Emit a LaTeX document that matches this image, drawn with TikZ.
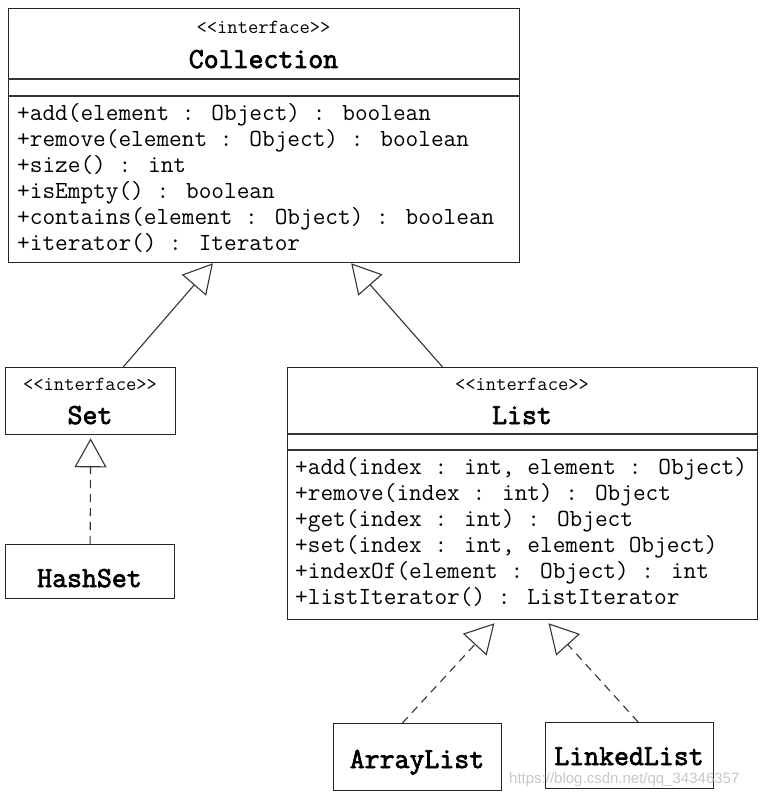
\documentclass[tikz,border=0pt]{standalone}
\usepackage{fontspec}
\newfontfamily\markfont{Liberation Sans}
\newfontfamily\namefont{Latin Modern Mono}[FakeBold=2.5]
\usetikzlibrary{arrows.meta,calc}
\tikzset{
  box/.style={draw=black!85, line width=1.3pt, anchor=north west, inner sep=0pt},
  sep/.style={draw=black!80, line width=1.2pt},
  stereo/.style={font=\ttfamily\fontsize{20}{22}\selectfont, anchor=base, inner sep=0pt},
  cname/.style={font=\namefont\fontsize{29}{32}\selectfont, anchor=base, inner sep=0pt},
  op/.style={font=\ttfamily\fontsize{24.6}{27}\selectfont, anchor=base west, inner sep=0pt},
  realize/.style={draw=black!80, line width=1.1pt, -{Triangle[open, length=29pt, width=32pt]}},
  impl/.style={realize, dash pattern=on 8pt off 6pt}
}
\begin{document}
\begin{tikzpicture}[x=1pt,y=-1pt]
  \useasboundingbox (0,0) rectangle (760,794);
  % Collection
  \node[box, minimum width=511pt, minimum height=254pt] (coll) at (8,8) {};
  \node[stereo] (collst) at (263.5,34) {<{}<interface>{}>};
  \node[cname] (collnm) at (263.5,68) {Collection};
  \draw[sep] (coll.west |- 0,79) -- (coll.east |- 0,79);
  \draw[sep] (coll.west |- 0,96) -- (coll.east |- 0,96);
  \foreach \m [count=\i from 0] in {{+add(element : Object) : boolean},
      {+remove(element : Object) : boolean}, {+size() : int},
      {+isEmpty() : boolean}, {+contains(element : Object) : boolean},
      {+iterator() : Iterator}}
    \node[op] (collop\i) at (17,121+25.9*\i) {\m};
  % Set
  \node[box, minimum width=170pt, minimum height=67pt] (set) at (5,367) {};
  \node[stereo] (setst) at (90,390) {<{}<interface>{}>};
  \node[cname] (setnm) at (90,424) {Set};
  % List
  \node[box, minimum width=470pt, minimum height=252pt] (list) at (287,367) {};
  \node[stereo] (listst) at (522,390) {<{}<interface>{}>};
  \node[cname] (listnm) at (522,424) {List};
  \draw[sep] (list.west |- 0,434) -- (list.east |- 0,434);
  \draw[sep] (list.west |- 0,450) -- (list.east |- 0,450);
  \foreach \m [count=\i from 0] in {{+add(index : int, element : Object)},
      {+remove(index : int) : Object}, {+get(index : int) : Object},
      {+set(index : int, element Object)}, {+indexOf(element : Object) : int},
      {+listIterator() : ListIterator}}
    \node[op] (listop\i) at (295,474+26*\i) {\m};
  % implementations
  \node[box, minimum width=169pt, minimum height=54pt] (hashset) at (5,544) {};
  \node[cname] (hashnm) at (89.5,587) {HashSet};
  \node[box, minimum width=168pt, minimum height=67pt] (array) at (333,723) {};
  \node[cname] (arraynm) at (417,768) {ArrayList};
  \node[box, minimum width=168pt, minimum height=66pt] (linked) at (545,722) {};
  \node[cname] (linkednm) at (629,765) {LinkedList};
  % arrows
  \draw[realize] ($(set.north west)!0.69!(set.north east)$) -- ($(coll.south west)!0.40!(coll.south east)$);
  \draw[realize] ($(list.north west)!0.33!(list.north east)$) -- ($(coll.south west)!0.67!(coll.south east)$);
  \draw[impl] (hashset.north) -- ($(set.south)+(0,3)$);
  \draw[impl] ($(array.north west)!0.41!(array.north east)$) -- ($(list.south west)!0.44!(list.south east)+(0,3)$);
  \draw[impl] ($(linked.north west)!0.55!(linked.north east)$) -- ($(list.south west)!0.555!(list.south east)+(0,3)$);
  \node[font=\markfont\fontsize{15}{17}\selectfont, text=black!22, anchor=base west, inner sep=0pt] (mark) at (509,783) {https://blog.csdn.net/qq\_34346357};
\end{tikzpicture}
\end{document}
